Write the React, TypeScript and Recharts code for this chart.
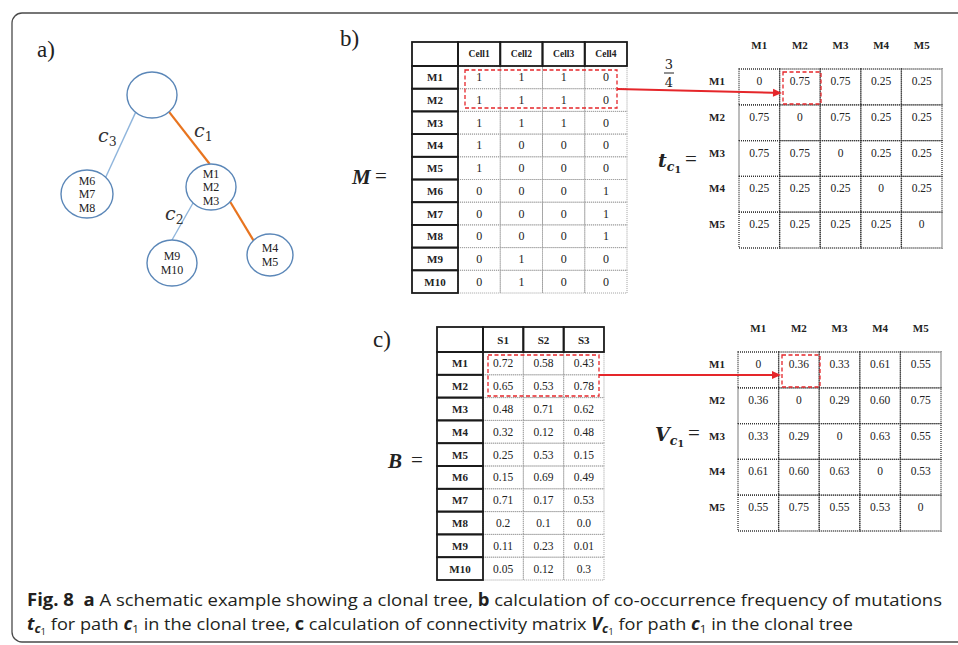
import React from "react";
import { ScatterChart, Scatter, XAxis, YAxis, ReferenceArea, ReferenceLine, ReferenceDot } from "recharts";

const W = 958;
const H = 645;

// ---- data ----
const cellNames = ["Cell1", "Cell2", "Cell3", "Cell4"];
const mutations = ["M1", "M2", "M3", "M4", "M5", "M6", "M7", "M8", "M9", "M10"];
const presence = [
  [1, 1, 1, 0],
  [1, 1, 1, 0],
  [1, 1, 1, 0],
  [1, 0, 0, 0],
  [1, 0, 0, 0],
  [0, 0, 0, 1],
  [0, 0, 0, 1],
  [0, 0, 0, 1],
  [0, 1, 0, 0],
  [0, 1, 0, 0],
];
const samples = ["S1", "S2", "S3"];
const frequencies = [
  ["0.72", "0.58", "0.43"],
  ["0.65", "0.53", "0.78"],
  ["0.48", "0.71", "0.62"],
  ["0.32", "0.12", "0.48"],
  ["0.25", "0.53", "0.15"],
  ["0.15", "0.69", "0.49"],
  ["0.71", "0.17", "0.53"],
  ["0.2", "0.1", "0.0"],
  ["0.11", "0.23", "0.01"],
  ["0.05", "0.12", "0.3"],
];
const pathMutations = ["M1", "M2", "M3", "M4", "M5"];
const coOccurrence = [
  ["0", "0.75", "0.75", "0.25", "0.25"],
  ["0.75", "0", "0.75", "0.25", "0.25"],
  ["0.75", "0.75", "0", "0.25", "0.25"],
  ["0.25", "0.25", "0.25", "0", "0.25"],
  ["0.25", "0.25", "0.25", "0.25", "0"],
];
const connectivity = [
  ["0", "0.36", "0.33", "0.61", "0.55"],
  ["0.36", "0", "0.29", "0.60", "0.75"],
  ["0.33", "0.29", "0", "0.63", "0.55"],
  ["0.61", "0.60", "0.63", "0", "0.53"],
  ["0.55", "0.75", "0.55", "0.53", "0"],
];

// clonal tree
const treeNodes = [
  { id: "root", muts: [] as string[] },
  { id: "n678", muts: ["M6", "M7", "M8"] },
  { id: "n123", muts: ["M1", "M2", "M3"] },
  { id: "n910", muts: ["M9", "M10"] },
  { id: "n45", muts: ["M4", "M5"] },
];
const treeEdges = [
  { from: "root", to: "n678", path: "3", c1: false },
  { from: "root", to: "n123", path: "1", c1: true },
  { from: "n123", to: "n910", path: "2", c1: false },
  { from: "n123", to: "n45", path: "", c1: true },
];

// ---- layout (diagram units = px) ----
const nodePos: Record<string, { x: number; y: number; rx: number; ry: number }> = {
  root: { x: 152, y: 95, rx: 25, ry: 23 },
  n678: { x: 87, y: 194, rx: 26, ry: 24 },
  n123: { x: 211, y: 187, rx: 25, ry: 23 },
  n910: { x: 172, y: 263, rx: 25, ry: 23 },
  n45: { x: 270, y: 255, rx: 23, ry: 21 },
};
const edgeAngles = [[131, -44], [47, -93], [136, -90], [40, -136]];
const edgeLabelAt = [{ x: 98, y: 142 }, { x: 194, y: 137 }, { x: 165, y: 220 }, null];

const SERIF = "'Liberation Serif', 'Times New Roman', serif";
const MATH = "'DejaVu Serif', serif";
const SANS = "'Open Sans', 'Noto Sans', sans-serif";
const RED = "#e5262a";
const BLUE_NODE = "#5b87b8";
const BLUE_EDGE = "#8fb5dc";
const ORANGE = "#e8741f";

type Cell = { x1: number; x2: number; y1: number; y2: number; text: string; kind: "head" | "side" | "body" | "grid"; fs: number };

function boxedTable(cols: string[], rows: string[], values: (string | number)[][], L: any): Cell[] {
  const out: Cell[] = [];
  const top = L.y + L.headH;
  rows.forEach((r, i) => {
    cols.forEach((_, j) => {
      const x1 = L.x + L.labelW + j * L.colW;
      out.push({ x1, x2: x1 + L.colW, y1: top + i * L.rowH, y2: top + (i + 1) * L.rowH, text: String(values[i][j]), kind: "body", fs: L.bodyFs });
    });
  });
  out.push({ x1: L.x, x2: L.x + L.labelW, y1: L.y, y2: top, text: "", kind: "head", fs: L.headFs });
  cols.forEach((c, j) => {
    const x1 = L.x + L.labelW + j * L.colW;
    out.push({ x1, x2: x1 + L.colW, y1: L.y, y2: top, text: c, kind: "head", fs: L.headFs });
  });
  rows.forEach((r, i) => {
    out.push({ x1: L.x, x2: L.x + L.labelW, y1: top + i * L.rowH, y2: top + (i + 1) * L.rowH, text: r, kind: "side", fs: L.sideFs });
  });
  return out;
}

function gridTable(values: string[][], L: any): Cell[] {
  const out: Cell[] = [];
  values.forEach((row, i) =>
    row.forEach((v, j) => {
      const x1 = L.x + j * L.colW;
      out.push({ x1, x2: x1 + L.colW, y1: L.y + i * L.rowH, y2: L.y + (i + 1) * L.rowH, text: v, kind: "grid", fs: 11.5 });
    })
  );
  return out;
}

const layoutM = { x: 412, y: 42, labelW: 46, colW: 42.25, headH: 24, rowH: 22.7, headFs: 9.5, sideFs: 11, bodyFs: 12 };
const layoutB = { x: 437, y: 327, labelW: 46, colW: 40.33, headH: 25, rowH: 22.8, headFs: 11, sideFs: 11, bodyFs: 11.5 };
const layoutT = { x: 739, y: 69, colW: 40.6, rowH: 35.8, headY: 45, sideX: 717 };
const layoutV = { x: 738, y: 352, colW: 40.6, rowH: 35.8, headY: 328, sideX: 717 };

const cellsM = boxedTable(cellNames, mutations, presence, layoutM);
const cellsB = boxedTable(samples, mutations, frequencies, layoutB);
const cellsT = gridTable(coOccurrence, layoutT);
const cellsV = gridTable(connectivity, layoutV);

const cellShape = (c: Cell) => (p: any) => {
  const { x, y, width, height } = p;
  const thick = c.kind === "head" || c.kind === "side";
  const stroke = thick ? "#1a1a1a" : c.kind === "grid" ? "#333" : "#a0a0a0";
  return (
    <g>
      <rect x={x} y={y} width={width} height={height} fill="none" stroke={stroke}
        strokeWidth={thick ? 1.8 : c.kind === "grid" ? 1.3 : 1} strokeDasharray={thick ? undefined : "1 1"} />
      {c.text && (
        <text x={x + width / 2} y={c.kind === "grid" ? y + 12 : y + height / 2} textAnchor="middle" dominantBaseline="central"
          fontFamily={SERIF} fontSize={c.fs} fontWeight={thick ? "bold" : "normal"} fill="#222">
          {c.text}
        </text>
      )}
    </g>
  );
};

const renderCells = (cells: Cell[], key: string) =>
  cells.map((c, i) => (
    <ReferenceArea key={`${key}${i}`} x1={c.x1} x2={c.x2} y1={c.y1} y2={c.y2} ifOverflow="visible" shape={cellShape(c)} />
  ));

const note = (key: string, x: number, y: number, render: (cx: number, cy: number) => React.ReactElement) => (
  <ReferenceDot key={key} x={x} y={y} r={0} ifOverflow="visible" shape={(p: any) => render(p.cx, p.cy)} />
);

const gridLabels = (L: any, key: string) => [
  ...pathMutations.map((m, j) =>
    note(`${key}h${j}`, L.x + (j + 0.5) * L.colW, L.headY, (cx, cy) => (
      <text x={cx} y={cy} textAnchor="middle" dominantBaseline="central" fontFamily={SERIF} fontSize={11} fontWeight="bold" fill="#222">{m}</text>
    ))
  ),
  ...pathMutations.map((m, i) =>
    note(`${key}s${i}`, L.sideX, L.y + i * L.rowH + 12, (cx, cy) => (
      <text x={cx} y={cy} textAnchor="middle" dominantBaseline="central" fontFamily={SERIF} fontSize={11} fontWeight="bold" fill="#222">{m}</text>
    ))
  ),
];

const NodeShape = (p: any) => {
  const { cx, cy, payload } = p;
  const L = nodePos[payload.id];
  const n = payload.muts.length;
  return (
    <g>
      <ellipse cx={cx} cy={cy} rx={L.rx} ry={L.ry} fill="#fff" stroke={BLUE_NODE} strokeWidth={1.4} />
      {payload.muts.map((m: string, i: number) => (
        <text key={m} x={cx} y={cy + (i - (n - 1) / 2) * 13.5} textAnchor="middle" dominantBaseline="central"
          fontFamily={SERIF} fontSize={12} fill="#222">{m}</text>
      ))}
    </g>
  );
};

const nodeData = treeNodes.map((n) => ({ ...n, x: nodePos[n.id].x, y: nodePos[n.id].y }));

const edgeSegments = treeEdges.map((e, i) => {
  const a = nodePos[e.from];
  const b = nodePos[e.to];
  const [t0, t1] = edgeAngles[i].map((d) => (d * Math.PI) / 180);
  return [
    { x: a.x + a.rx * Math.cos(t0), y: a.y + a.ry * Math.sin(t0) },
    { x: b.x + b.rx * Math.cos(t1), y: b.y + b.ry * Math.sin(t1) },
  ];
});

const ArrowShape = (p: any) => {
  const { x1, y1, x2, y2 } = p;
  const ang = Math.atan2(y2 - y1, x2 - x1);
  const len = 9;
  const hw = 4;
  const bx = x2 - len * Math.cos(ang);
  const by = y2 - len * Math.sin(ang);
  const nx = -Math.sin(ang) * hw;
  const ny = Math.cos(ang) * hw;
  return (
    <g>
      <line x1={x1} y1={y1} x2={bx} y2={by} stroke={RED} strokeWidth={2} />
      <polygon points={`${x2},${y2} ${bx + nx},${by + ny} ${bx - nx},${by - ny}`} fill={RED} />
    </g>
  );
};

const dashedBoxes = [
  { x1: 465, x2: 617, y1: 70, y2: 108 },
  { x1: 783, x2: 821, y1: 72, y2: 104 },
  { x1: 488, x2: 599, y1: 355, y2: 396 },
  { x1: 782, x2: 820, y1: 355, y2: 387 },
];
const arrows = [
  [{ x: 617, y: 89 }, { x: 782, y: 93 }],
  [{ x: 599, y: 375 }, { x: 781, y: 375 }],
];

const mathLabel = (key: string, x: number, y: number, sym: string, sub: boolean, eqX: number) =>
  note(key, x, y, (cx, cy) => (
    <g fill="#222">
      <text x={cx} y={cy} fontFamily={sub ? MATH : SERIF} fontSize={sub ? 19 : 21}>
        <tspan fontWeight="bold" fontStyle="italic">{sym}</tspan>
        {sub && <tspan fontWeight="bold" fontStyle="italic" fontSize={12.5} dy={4}>c</tspan>}
        {sub && <tspan fontWeight="bold" fontSize={9.5} dy={1.5}>1</tspan>}
      </text>
      <text x={cx + eqX} y={cy - 1} fontFamily={SERIF} fontSize={21}>=</text>
    </g>
  ));

export default function App() {
  return (
    <div style={{ position: "absolute", left: 0, top: 0, width: W, height: H, background: "#fff" }}>
      <ScatterChart width={W} height={H} margin={{ top: 0, right: 0, bottom: 0, left: 0 }}>
        <XAxis type="number" dataKey="x" domain={[0, W]} allowDataOverflow hide />
        <YAxis type="number" dataKey="y" domain={[0, H]} allowDataOverflow reversed hide />

        <ReferenceArea x1={12} x2={990} y1={13} y2={642} ifOverflow="visible"
          shape={(p: any) => (
            <rect x={p.x} y={p.y} width={p.width} height={p.height} rx={10} fill="none" stroke="#4a4a4a" strokeWidth={1.3} />
          )} />

        {/* tree */}
        {treeEdges.map((e, i) => (
          <ReferenceLine key={`e${i}`} segment={edgeSegments[i]} ifOverflow="visible"
            stroke={e.c1 ? ORANGE : BLUE_EDGE} strokeWidth={e.c1 ? 2.2 : 1.4} />
        ))}
        {treeEdges.map((e, i) =>
          e.path && edgeLabelAt[i]
            ? note(`el${i}`, edgeLabelAt[i]!.x, edgeLabelAt[i]!.y, (cx, cy) => (
                <text x={cx} y={cy} fontFamily={MATH} fontSize={19} fill="#333">
                  <tspan fontStyle="italic">c</tspan>
                  <tspan fontSize={12.5} dy={4}>{e.path}</tspan>
                </text>
              ))
            : null
        )}
        <Scatter data={nodeData} isAnimationActive={false} shape={NodeShape} />

        {/* panel letters */}
        {note("pa", 37, 57, (cx, cy) => <text x={cx} y={cy} fontFamily={SERIF} fontSize={23} fill="#222">a)</text>)}
        {note("pb", 340, 46, (cx, cy) => <text x={cx} y={cy} fontFamily={SERIF} fontSize={23} fill="#222">b)</text>)}
        {note("pc", 373, 347, (cx, cy) => <text x={cx} y={cy} fontFamily={SERIF} fontSize={23} fill="#222">c)</text>)}

        {/* tables */}
        {renderCells(cellsM, "m")}
        {renderCells(cellsB, "b")}
        {renderCells(cellsT, "t")}
        {renderCells(cellsV, "v")}
        {gridLabels(layoutT, "tl")}
        {gridLabels(layoutV, "vl")}

        {mathLabel("lm", 352, 184, "M", false, 23)}
        {mathLabel("lb", 388, 468, "B", false, 23)}
        {mathLabel("lt", 658, 167, "t", true, 27)}
        {mathLabel("lv", 655, 441, "V", true, 33)}

        {note("frac", 669, 73, (cx, cy) => (
          <g fontFamily={MATH} fontSize={13} fill="#222" textAnchor="middle">
            <text x={cx} y={cy - 4}>3</text>
            <line x1={cx - 5} x2={cx + 5} y1={cy} y2={cy} stroke="#222" strokeWidth={1} />
            <text x={cx} y={cy + 14}>4</text>
          </g>
        ))}

        {dashedBoxes.map((b, i) => (
          <ReferenceArea key={`db${i}`} {...b} ifOverflow="visible" fill="none" stroke={RED} strokeWidth={1.3} strokeDasharray="4 2.5" />
        ))}
        {arrows.map((a, i) => (
          <ReferenceLine key={`ar${i}`} segment={a} ifOverflow="visible" shape={ArrowShape} />
        ))}

        {/* caption */}
        {note("cap1", 27, 606, (cx, cy) => (
          <text x={cx} y={cy} fontFamily={SANS} fontSize={17} fill="#231f20" textLength={915} lengthAdjust="spacingAndGlyphs" style={{ whiteSpace: "pre" }}>
            <tspan fontWeight="bold">{"Fig. 8  a"}</tspan>
            <tspan>{" A schematic example showing a clonal tree, "}</tspan>
            <tspan fontWeight="bold">b</tspan>
            <tspan>{" calculation of co-occurrence frequency of mutations"}</tspan>
          </text>
        ))}
        {note("cap2", 27, 630, (cx, cy) => (
          <text x={cx} y={cy} fontFamily={SANS} fontSize={17} fill="#231f20" textLength={826} lengthAdjust="spacingAndGlyphs" style={{ whiteSpace: "pre" }}>
            <tspan fontWeight="bold" fontStyle="italic">t</tspan>
            <tspan fontWeight="bold" fontStyle="italic" fontSize={12} dy={3}>c</tspan>
            <tspan fontSize={9} dy={2}>1</tspan>
            <tspan dy={-5}>{" for path "}</tspan>
            <tspan fontWeight="bold" fontStyle="italic">c</tspan>
            <tspan fontSize={11} dy={3}>1</tspan>
            <tspan dy={-3}>{" in the clonal tree, "}</tspan>
            <tspan fontWeight="bold">c</tspan>
            <tspan>{" calculation of connectivity matrix "}</tspan>
            <tspan fontWeight="bold" fontStyle="italic">V</tspan>
            <tspan fontWeight="bold" fontStyle="italic" fontSize={12} dy={3}>c</tspan>
            <tspan fontSize={9} dy={2}>1</tspan>
            <tspan dy={-5}>{" for path "}</tspan>
            <tspan fontWeight="bold" fontStyle="italic">c</tspan>
            <tspan fontSize={11} dy={3}>1</tspan>
            <tspan dy={-3}>{" in the clonal tree"}</tspan>
          </text>
        ))}
      </ScatterChart>
    </div>
  );
}
